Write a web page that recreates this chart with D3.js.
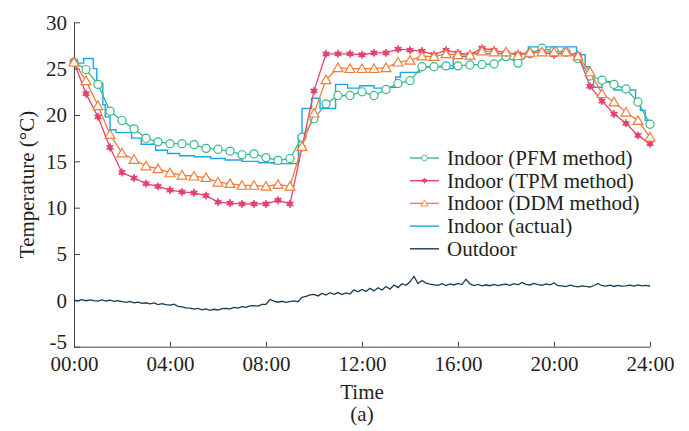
<!DOCTYPE html>
<html>
<head>
<meta charset="utf-8">
<script src="https://cdn.jsdelivr.net/npm/d3@7"></script>
<style>
    body { margin: 0; background: #fff; }
    svg text { font-family: "Liberation Serif", "Times New Roman", serif; fill: #231f20; }
</style>
</head>
<body>
<svg id="chart" width="689" height="431"></svg>
<script>
// half-hour marker series (00:00 .. 24:00)
var pfmTemp = [25.7, 24.9, 23.3, 20.4, 19.4, 18.5, 17.5, 17.1, 16.9, 16.9, 16.8, 16.4, 16.3, 16.1, 15.7, 15.8, 15.4, 15.1, 15.3,
    17.6, 19.6, 21.2, 22.1, 22.1, 22.5, 22.1, 22.75, 23.4, 23.7, 25.2, 25.2, 25.3, 25.3, 25.4, 25.45, 25.5, 26.3, 25.6,
    26.6, 27.2, 26.9, 26.8, 26.1, 24.2, 23.75, 23.3, 22.8, 21.4, 19.0];
var tpmTemp = [25.7, 22.3, 19.8, 16.5, 13.8, 13.2, 12.6, 12.3, 11.9, 11.7, 11.6, 11.3, 10.6, 10.5, 10.4, 10.4, 10.4, 10.8, 10.4,
    16.5, 22.6, 26.6, 26.6, 26.6, 26.5, 26.7, 26.7, 27.1, 27.0, 26.9, 26.5, 27.0, 26.7, 26.5, 27.2, 27.0, 26.7, 26.6,
    26.7, 26.8, 26.5, 26.7, 26.5, 23.1, 21.5, 20.1, 19.1, 17.8, 16.9];
var ddmTemp = [25.7, 23.7, 21.0, 17.9, 15.9, 15.2, 14.5, 14.2, 13.75, 13.5, 13.4, 13.25, 12.75, 12.6, 12.4, 12.4, 12.3, 12.5, 12.3,
    16.6, 20.2, 23.8, 25.1, 25.0, 25.0, 25.0, 25.1, 25.7, 25.9, 26.35, 26.3, 26.6, 26.5, 26.45, 26.9, 26.8, 26.8, 26.4,
    26.75, 26.8, 26.8, 26.8, 26.35, 24.65, 22.3, 21.4, 20.3, 19.4, 17.6];
var markerTime = d3.range(0, 24.01, 0.5);

// measured indoor temperature, step changes
var actualTime = [0, 0.4, 0.8, 0.95, 1.2, 1.3, 1.5, 1.75, 2.4, 2.8, 3.4, 3.9, 4.4, 5.0, 5.7, 6.3, 7.0, 7.7, 8.3, 9.35,
    9.5, 9.9, 10.25, 10.9, 11.4, 11.9, 12.5, 13.0, 13.4, 13.6, 14.4, 15.5, 15.8, 16.5, 18.93, 20.94, 21.3, 21.5, 21.65, 22.0,
    22.5, 23.4, 23.6, 23.8, 24.0];
var actualTemp = [25.6, 26.1, 25.0, 23.4, 21.1, 19.8, 18.4, 18.1, 17.5, 16.85, 16.2, 15.85, 15.6, 15.5, 15.3, 15.15, 15.0, 14.85, 14.75, 17.8,
    20.7, 21.8, 20.7, 23.3, 22.9, 23.15, 22.9, 23.0, 24.1, 24.6, 25.2, 25.0, 26.3, 26.6, 27.35, 26.5, 25.2, 24.3, 23.0, 23.6,
    22.7, 21.4, 20.5, 19.4, 18.9];

// outdoor temperature, every 10 minutes
var outdoorTemp = [
    0.02, -0.06, 0.08, -0.04, 0.06, -0.02,
    -0.08, 0.05, -0.07, 0.03, -0.10, -0.02,
    -0.14, -0.22, -0.12, -0.27, -0.20, -0.33,
    -0.26, -0.38, -0.28, -0.45, -0.36, -0.47,
    -0.52, -0.42, -0.65, -0.70, -0.82, -0.84,
    -0.95, -0.86, -1.03, -0.93, -1.08, -0.96,
    -1.04, -0.90, -0.88, -0.92, -0.76, -0.83,
    -0.68, -0.75, -0.60, -0.57, -0.63, -0.43,
    -0.42, 0.10, -0.08, -0.20, -0.10, -0.22,
    -0.14, -0.06, -0.15, 0.32, 0.42, 0.58,
    0.64, 0.48, 0.75, 0.58, 0.82, 0.66,
    0.84, 0.62, 0.80, 0.68, 1.14, 0.92,
    1.18, 0.95, 1.30, 1.02, 1.36, 1.12,
    1.50, 1.22, 1.66, 1.38, 1.80, 1.62,
    2.00, 2.58, 1.82, 2.15, 1.86, 1.74,
    1.68, 1.62, 1.80, 1.60, 1.77, 1.66,
    1.82, 1.70, 2.28, 1.78, 1.60, 1.72,
    1.56, 1.68, 1.58, 1.73, 1.60, 1.70,
    1.74, 1.62, 1.80, 1.68, 1.93, 1.73,
    1.66, 1.83, 1.70, 1.63, 1.77, 1.68,
    1.88, 1.58, 1.57, 1.48, 1.64, 1.53,
    1.46, 1.57, 1.50, 1.44, 1.60, 1.82,
    1.58, 1.53, 1.64, 1.50, 1.62, 1.53,
    1.56, 1.64, 1.53, 1.67, 1.56, 1.62,
    1.55];

var xTicks = [0, 4, 8, 12, 16, 20, 24];
var yTicks = [-5, 0, 5, 10, 15, 20, 25, 30];
var legendLabels = ['Indoor (PFM method)', 'Indoor (TPM method)', 'Indoor (DDM method)', 'Indoor (actual)', 'Outdoor'];

var colors = {
    pfm: '#35b98b',
    tpm: '#e2436d',
    ddm: '#f47b38',
    actual: '#1ba7e6',
    outdoor: '#1c3b50'
};

var svg = d3.select('#chart');

var x = d3.scaleLinear().domain([0, 24]).range([74, 650]);
var y = d3.scaleLinear().domain([-5, 30]).range([346.7, 22.3]);

function pad(n) {
    return (n < 10 ? '0' : '') + n + ':00';
}

// axes, ticks pointing inside
var xAxis = svg.append('g')
    .attr('transform', 'translate(0,' + y(-5) + ')')
    .call(d3.axisBottom(x).tickValues(xTicks).tickFormat(pad)
        .tickSizeInner(-5).tickSizeOuter(0).tickPadding(9));
var yAxis = svg.append('g')
    .attr('transform', 'translate(' + x(0) + ',0)')
    .call(d3.axisLeft(y).tickValues(yTicks).tickFormat(function (d) { return String(d); })
        .tickSizeInner(-6).tickSizeOuter(0).tickPadding(7));

[xAxis, yAxis].forEach(function (g) {
    g.selectAll('path, line').attr('stroke', '#444').attr('stroke-width', 1);
    g.selectAll('text').attr('font-size', 21).attr('font-family', null).attr('fill', '#231f20');
});
xAxis.selectAll('text').attr('dy', '0.75em');
// lowest label sits a little above its tick, clear of 00:00
yAxis.selectAll('.tick text')
    .filter(function (d) { return d == -5; })
    .attr('dy', '0.1em');

// axis titles
svg.append('text')
    .attr('x', 362).attr('y', 399)
    .attr('text-anchor', 'middle').attr('font-size', 21)
    .text('Time');
svg.append('text')
    .attr('x', 362).attr('y', 421)
    .attr('text-anchor', 'middle').attr('font-size', 21)
    .text('(a)');
svg.append('text')
    .attr('transform', 'translate(34,' + y(12.5) + ') rotate(-90)')
    .attr('text-anchor', 'middle').attr('font-size', 21)
    .text('Temperature (°C)');

var plot = svg.append('g');

// outdoor
var outdoorLine = d3.line()
    .x(function (d, i) { return x(i / 6); })
    .y(function (d) { return y(d); });
plot.append('path')
    .attr('d', outdoorLine(outdoorTemp))
    .attr('fill', 'none').attr('stroke', colors.outdoor).attr('stroke-width', 1.3);

// actual indoor, step line
var actualLine = d3.line()
    .curve(d3.curveStepAfter)
    .x(function (d) { return x(d[0]); })
    .y(function (d) { return y(d[1]); });
plot.append('path')
    .attr('d', actualLine(d3.zip(actualTime, actualTemp)))
    .attr('fill', 'none').attr('stroke', colors.actual).attr('stroke-width', 1.4);

var markerLine = d3.line()
    .x(function (d, i) { return x(markerTime[i]); })
    .y(function (d) { return y(d); });

var circleSym = d3.symbol(d3.symbolCircle, 52);
var triSym = d3.symbol(d3.symbolTriangle, 42);
var starSym = d3.symbol(d3.symbolAsterisk, 44);

function drawMarker(g, kind) {
    if (kind == 'pfm') {
        g.append('path').attr('d', circleSym())
            .attr('fill', '#fff').attr('stroke', colors.pfm).attr('stroke-width', 1.2);
    }
    else if (kind == 'tpm') {
        g.append('path').attr('d', starSym())
            .attr('fill', 'none').attr('stroke', colors.tpm).attr('stroke-width', 1.5);
        g.append('circle').attr('r', 2.6).attr('fill', colors.tpm);
    }
    else {
        g.append('path').attr('d', triSym()).attr('transform', 'translate(0,1)')
            .attr('fill', '#fff').attr('stroke', colors.ddm).attr('stroke-width', 1.2);
    }
}

function drawSeries(values, kind) {
    plot.append('path')
        .attr('d', markerLine(values))
        .attr('fill', 'none').attr('stroke', colors[kind]).attr('stroke-width', 1.3);
    plot.append('g').selectAll('g')
        .data(values)
        .enter()
        .append('g')
        .attr('transform', function (d, i) {
            return 'translate(' + x(markerTime[i]) + ',' + y(d) + ')';
        })
        .each(function () { drawMarker(d3.select(this), kind); });
}

drawSeries(pfmTemp, 'pfm');
drawSeries(tpmTemp, 'tpm');
drawSeries(ddmTemp, 'ddm');

// legend
var legendKeys = ['pfm', 'tpm', 'ddm', 'actual', 'outdoor'];
var legend = svg.append('g').selectAll('g')
    .data(legendKeys)
    .enter()
    .append('g')
    .attr('transform', function (d, i) {
        return 'translate(410,' + (158 + i * 22.7) + ')';
    });
legend.append('line')
    .attr('x1', 0).attr('x2', 29)
    .attr('stroke', function (d) { return colors[d]; })
    .attr('stroke-width', 1.4);
legend.each(function (d) {
    if (d == 'pfm' || d == 'tpm' || d == 'ddm') {
        var m = d3.select(this).append('g')
            .attr('transform', 'translate(14.5,0) scale(0.7)');
        drawMarker(m, d);
    }
});
legend.append('text')
    .attr('x', 37).attr('y', 7)
    .attr('font-size', 21)
    .text(function (d, i) { return legendLabels[i]; });
</script>
</body>
</html>
